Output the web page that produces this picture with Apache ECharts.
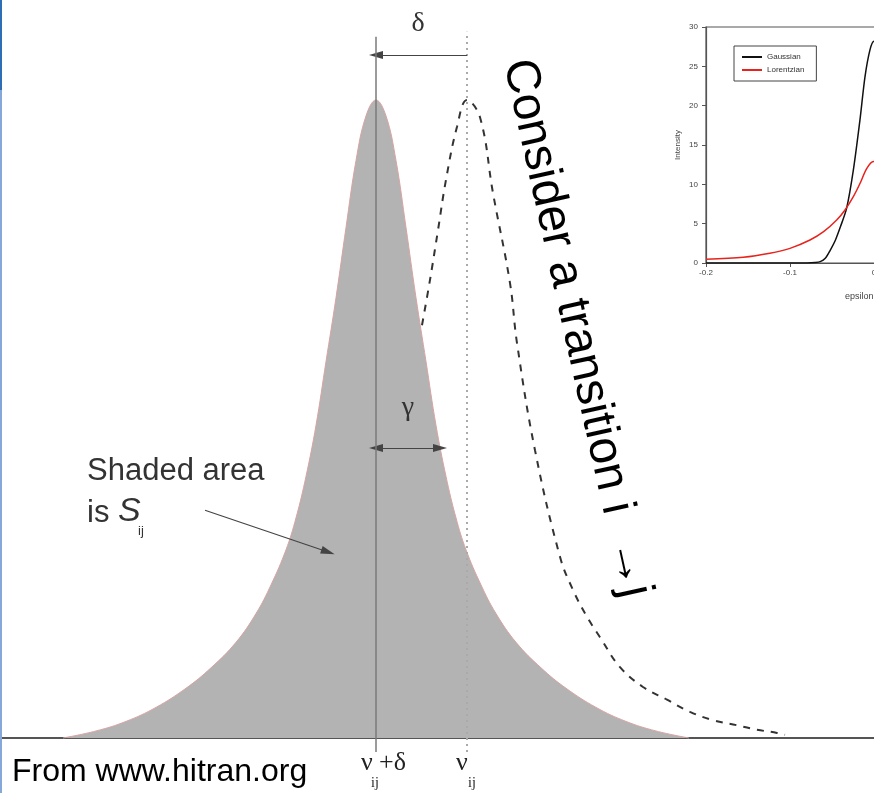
<!DOCTYPE html>
<html>
<head>
<meta charset="utf-8">
<script src="https://cdn.jsdelivr.net/npm/echarts@6/dist/echarts.min.js"></script>
<style>
  html, body { margin: 0; padding: 0; background: #fff; overflow: hidden; }
  #chart { width: 1100px; height: 793px; }
</style>
</head>
<body>
<div id="chart"></div>
<script>
// shaded line profile, centred on nu_ij + delta (x in arbitrary units, peak = 1)
var shadedX = [-31.3, -28, -25, -22, -19, -16.5, -14, -12, -10.5, -9, -8, -7, -6, -5, -4, -3, -2, -1, 0,
               1, 2, 3, 4, 5, 6, 7, 8, 9, 10.5, 12, 14, 16.5, 19, 22, 25, 28, 31.3];
var shadedY = [0, 0.011, 0.026, 0.048, 0.078, 0.11, 0.15, 0.195, 0.24, 0.295, 0.345, 0.41, 0.49, 0.59, 0.69, 0.80, 0.905, 0.975, 1,
               0.975, 0.905, 0.80, 0.69, 0.59, 0.49, 0.41, 0.345, 0.295, 0.24, 0.195, 0.15, 0.11, 0.078, 0.048, 0.026, 0.011, 0];
// unshifted profile (dashed), visible part only
var dashedX = [4.6, 5.4, 6.2, 7.0, 8.1, 9.1, 10.4, 11.7, 13.4, 14.1, 15.9, 18.4, 19.7, 21.1, 22.4,
               24.4, 26.7, 29.1, 31.4, 33.7, 36.1, 38.1, 40.1, 40.9];
var dashedY = [0.647, 0.718, 0.796, 0.875, 0.958, 1, 0.973, 0.854, 0.713, 0.619, 0.451, 0.284, 0.232, 0.19, 0.158,
               0.111, 0.08, 0.06, 0.041, 0.028, 0.02, 0.013, 0.008, 0.005];
var lineCentres = [0, 9.1];   // nu_ij + delta, nu_ij

// inset chart
var gaussEps = [-0.2, -0.1, -0.08, -0.07, -0.064, -0.058, -0.052, -0.046, -0.040, -0.0325, -0.0246, -0.0167, -0.0107, -0.0048, 0, 0.005, 0.01];
var gaussInt = [0, 0, 0, 0.05, 0.17, 0.6, 1.65, 2.9, 4.6, 7.0, 11.8, 18.2, 23.7, 27.1, 28.2, 27.6, 25.5];
var lorentzEps = [-0.2, -0.1556, -0.124, -0.1, -0.0762, -0.06, -0.0444, -0.0345, -0.0246, -0.0167, -0.0087, -0.0008, 0.005];
var lorentzInt = [0.47, 0.72, 1.23, 1.86, 2.92, 3.98, 5.47, 6.74, 8.43, 10.1, 12.0, 12.9, 12.8];

function zip(a, b) {
  var out = [];
  for (var i = 0; i < a.length; i++) out.push([a[i], b[i]]);
  return out;
}

var serif = '"Liberation Serif", "DejaVu Serif", serif';
var sans = '"Liberation Sans", Arial, sans-serif';

function txt(x, y, s, size, fam, extra) {
  var st = { text: s, fontSize: size, fontFamily: fam, fill: '#222', align: 'left', verticalAlign: 'middle' };
  for (var k in extra) st[k] = extra[k];
  return { type: 'text', x: x, y: y, z: 50, style: st };
}

var chart = echarts.init(document.getElementById('chart'));

var option = {
  animation: false,
  backgroundColor: '#fff',
  grid: [
    { left: 0, top: 0, width: 874, height: 793 },
    { left: 706, top: 27, width: 336, height: 236, show: true, borderColor: '#555', borderWidth: 1.2, backgroundColor: '#fff', z: 10 }
  ],
  xAxis: [
    { gridIndex: 0, type: 'value', min: -37.6, max: 49.8,
      axisLine: { lineStyle: { color: '#555', width: 2 } },
      axisTick: { show: false }, axisLabel: { show: false }, splitLine: { show: false } },
    { gridIndex: 1, type: 'value', min: -0.2, max: 0.2, interval: 0.1, z: 11,
      axisLine: { onZero: false, lineStyle: { color: '#555', width: 1.2 } },
      axisTick: { length: 4, lineStyle: { color: '#555' } },
      axisLabel: { fontSize: 8, color: '#444', margin: 6, fontFamily: sans,
        formatter: function (v) { return v === 0 ? '0' : v.toFixed(1); } },
      splitLine: { show: false } }
  ],
  yAxis: [
    { gridIndex: 0, type: 'value', min: -0.0862, max: 1.1567, show: false },
    { gridIndex: 1, type: 'value', min: 0, max: 30, interval: 5, z: 11,
      name: 'Intensity', nameLocation: 'middle', nameGap: 24,
      nameTextStyle: { fontSize: 8, color: '#444', fontFamily: sans },
      axisLine: { show: true, onZero: false, lineStyle: { color: '#555', width: 1.2 } },
      axisTick: { show: true, length: 4, lineStyle: { color: '#555' } },
      axisLabel: { fontSize: 8, color: '#444', margin: 8, fontFamily: sans },
      splitLine: { show: false } }
  ],
  legend: {
    data: ['Gaussian', 'Lorentzian'],
    left: 734, top: 46, orient: 'vertical', z: 12,
    icon: 'rect', itemWidth: 20, itemHeight: 2, itemGap: 5,
    backgroundColor: '#fff', borderColor: '#444', borderWidth: 1,
    padding: [7, 12, 7, 8],
    textStyle: { fontSize: 8, color: '#333', fontFamily: sans }
  },
  series: [
    { type: 'line', xAxisIndex: 0, yAxisIndex: 0, z: 2,
      data: zip(dashedX, dashedY), smooth: 0.4, symbol: 'none',
      lineStyle: { color: '#333', width: 2, type: [7, 7] } },
    { type: 'line', xAxisIndex: 0, yAxisIndex: 0, z: 3,
      data: zip(shadedX, shadedY), smooth: 0.4, symbol: 'none',
      lineStyle: { color: '#d9a3a3', width: 1 },
      areaStyle: { color: '#b3b3b3', opacity: 1 } },
    { type: 'line', xAxisIndex: 0, yAxisIndex: 0, z: 4,
      data: [[lineCentres[1], -0.022], [lineCentres[1], 1.107]], symbol: 'none',
      lineStyle: { color: '#aaa', width: 2, type: [2, 4] } },
    { type: 'line', xAxisIndex: 0, yAxisIndex: 0, z: 5,
      data: [[lineCentres[0], -0.022], [lineCentres[0], 1.099]], symbol: 'none',
      lineStyle: { color: '#7a7a7a', width: 1.5 },
      markLine: {
        silent: true, animation: false,
        symbol: ['none', 'triangle'], symbolSize: [8, 14],
        label: { show: false },
        lineStyle: { color: '#444', width: 1.2, type: 'solid' },
        data: [
          [{ coord: [lineCentres[1], 1.0705] }, { coord: [lineCentres[0], 1.0705] }],
          [{ coord: [lineCentres[0], 0.4545], symbol: 'triangle' }, { coord: [6.4, 0.4545] }],
          [{ coord: [-17.1, 0.357] }, { coord: [-4.8, 0.2915] }]
        ]
      } },
    { type: 'line', name: 'Gaussian', xAxisIndex: 1, yAxisIndex: 1, z: 12,
      data: zip(gaussEps, gaussInt), smooth: 0.3, symbol: 'none',
      itemStyle: { color: '#111' }, lineStyle: { color: '#111', width: 1.5 } },
    { type: 'line', name: 'Lorentzian', xAxisIndex: 1, yAxisIndex: 1, z: 12,
      data: zip(lorentzEps, lorentzInt), smooth: 0.3, symbol: 'none',
      itemStyle: { color: '#e8231c' }, lineStyle: { color: '#e8231c', width: 1.5 } }
  ],
  graphic: [
    { type: 'rect', shape: { x: 0, y: 0, width: 2, height: 90 }, style: { fill: '#2f6db5' }, z: 60 },
    { type: 'rect', shape: { x: 0, y: 90, width: 2, height: 703 }, style: { fill: '#86a8d8' }, z: 60 },
    txt(418, 24, 'δ', 28, serif, { align: 'center', fill: '#333' }),
    txt(408, 408, 'γ', 28, serif, { align: 'center', fill: '#333' }),
    txt(87, 471, 'Shaded area', 31, sans, { fill: '#333' }),
    txt(87, 513, 'is', 31, sans, { fill: '#333' }),
    txt(118, 512, 'S', 34, sans, { fill: '#333', fontStyle: 'italic' }),
    txt(138, 531, 'ij', 13, sans, { fill: '#333' }),
    txt(12, 772, 'From www.hitran.org', 32, sans, { fill: '#000' }),
    txt(361, 763, 'ν', 26, serif),
    txt(371, 783, 'ij', 14, serif),
    txt(379, 763, '+δ', 26, serif),
    txt(456, 763, 'ν', 26, serif),
    txt(468, 783, 'ij', 14, serif),
    txt(845, 297, 'epsilon', 9, sans, { fill: '#444' }),
    { type: 'text', x: 517, y: 60, rotation: -77.5 * Math.PI / 180, z: 50,
      style: { text: 'Consider a transition i  →j', fontSize: 48, fontFamily: sans, fill: '#000',
               align: 'left', verticalAlign: 'middle' } }
  ]
};

chart.setOption(option);
</script>
</body>
</html>
